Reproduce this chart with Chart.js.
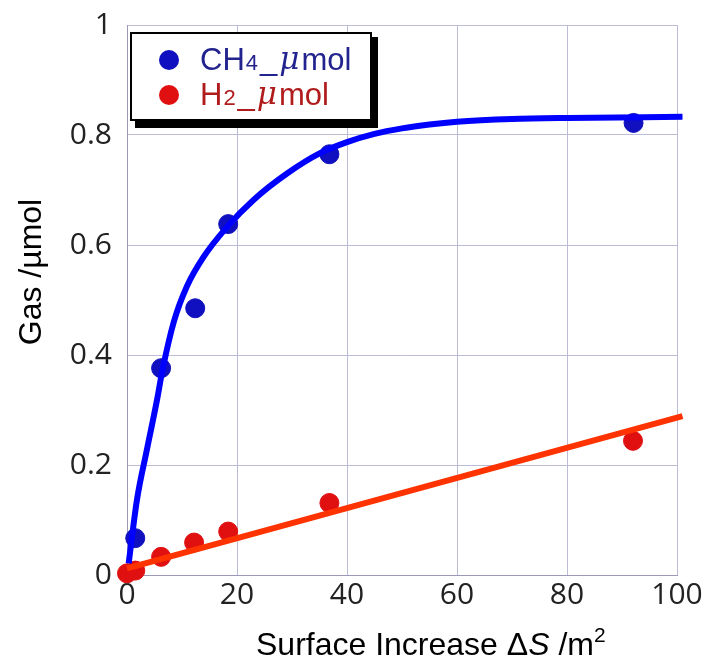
<!DOCTYPE html>
<html>
<head>
<meta charset="utf-8">
<script src="https://cdn.jsdelivr.net/npm/chart.js@4"></script>
<style>
  html, body { margin: 0; padding: 0; background: #fff; }
  #wrap { width: 708px; height: 660px; }
</style>
</head>
<body>
<div id="wrap"><canvas id="gasChart" width="708" height="660"></canvas></div>
<script>
// measured points
const ch4X = [1.5, 6.2, 12.4, 18.4, 36.8, 92.1];
const ch4Y = [0.067, 0.376, 0.485, 0.638, 0.765, 0.822];
const h2X = [0, 1.5, 6.2, 12.2, 18.4, 36.8, 92];
const h2Y = [0.003, 0.008, 0.033, 0.059, 0.079, 0.131, 0.244];

// fitted curves
const ch4FitX = [0.3, 1.8, 3.6, 5.45, 6.4, 8.5, 10.9, 13.9, 18.2, 23, 29.1, 35.1, 40, 45, 50, 55, 60, 70, 80, 101];
const ch4FitY = [0.021, 0.136, 0.227, 0.318, 0.37, 0.46, 0.525, 0.578, 0.633, 0.682, 0.73, 0.767, 0.787, 0.802, 0.812, 0.819, 0.824, 0.829, 0.831, 0.833];
const h2FitX = [0, 101];
const h2FitY = [0.012, 0.289];

const xTicks = [0, 20, 40, 60, 80, 100];
const yTicks = [0, 0.2, 0.4, 0.6, 0.8, 1];

const pts = (xs, ys) => xs.map((x, i) => ({ x: x, y: ys[i] }));

const tickFont = { family: '"Open Sans", sans-serif', size: 30 };

// legend box + axis titles drawn by hand
const decorations = {
  id: 'decorations',
  afterDraw(chart) {
    const ctx = chart.ctx;
    ctx.save();

    // legend
    ctx.fillStyle = '#000';
    ctx.fillRect(135, 37, 243, 91);
    ctx.fillStyle = '#fff';
    ctx.fillRect(130, 32, 242, 89);
    ctx.strokeStyle = '#000';
    ctx.lineWidth = 2;
    ctx.strokeRect(131, 33, 240, 87);

    const items = [
      { dot: '#1010c0', text: '#23238f', main: 'CH', sub: '4', y: 60 },
      { dot: '#e01010', text: '#b01c1c', main: 'H', sub: '2', y: 95 }
    ];
    items.forEach(it => {
      ctx.fillStyle = it.dot;
      ctx.beginPath();
      ctx.arc(169, it.y, 10, 0, Math.PI * 2);
      ctx.fill();
      ctx.fillStyle = it.text;
      ctx.textBaseline = 'middle';
      let x = 200;
      ctx.font = '31px "Liberation Sans", Arial, sans-serif';
      ctx.fillText(it.main, x, it.y + 1);
      x += ctx.measureText(it.main).width + 1;
      ctx.font = '22px "Liberation Sans", Arial, sans-serif';
      ctx.fillText(it.sub, x, it.y + 4);
      x += ctx.measureText(it.sub).width + 2;
      ctx.font = '31px "Liberation Sans", Arial, sans-serif';
      ctx.fillText('_', x, it.y + 1);
      x += ctx.measureText('_').width + 2;
      ctx.font = 'italic 31px "DejaVu Serif", serif';
      ctx.fillText('\u03bc', x, it.y + 1);
      x += ctx.measureText('\u03bc').width + 2;
      ctx.font = '31px "Liberation Sans", Arial, sans-serif';
      ctx.fillText('mol', x, it.y + 1);
    });

    // y title
    ctx.fillStyle = '#000';
    ctx.font = '32px "Liberation Sans", Arial, sans-serif';
    ctx.translate(41, 272);
    ctx.rotate(-Math.PI / 2);
    ctx.textAlign = 'center';
    ctx.textBaseline = 'alphabetic';
    ctx.fillText('Gas /\u00b5mol', 0, 0);
    ctx.setTransform(1, 0, 0, 1, 0, 0);

    // x title
    ctx.textAlign = 'left';
    let x = 256;
    const base = 655;
    const parts = [
      ['Surface Increase \u0394', '32px "Liberation Sans", Arial, sans-serif', 0],
      ['S', 'italic 32px "Liberation Sans", Arial, sans-serif', 0],
      [' /m', '32px "Liberation Sans", Arial, sans-serif', 0],
      ['2', '21px "Liberation Sans", Arial, sans-serif', -13]
    ];
    parts.forEach(p => {
      ctx.font = p[1];
      ctx.fillText(p[0], x, base + p[2]);
      x += ctx.measureText(p[0]).width;
    });
    ctx.restore();
  }
};

new Chart(document.getElementById('gasChart'), {
  type: 'scatter',
  data: {
    datasets: [
      {
        label: 'CH4 fit',
        type: 'line',
        data: pts(ch4FitX, ch4FitY),
        borderColor: '#0000ff',
        borderWidth: 6,
        pointRadius: 0,
        cubicInterpolationMode: 'monotone',
        fill: false,
        clip: false,
        order: 0
      },
      {
        label: 'H2 fit',
        type: 'line',
        data: pts(h2FitX, h2FitY),
        borderColor: '#ff3300',
        borderWidth: 6,
        pointRadius: 0,
        fill: false,
        clip: false,
        order: 0
      },
      {
        label: 'CH4_\u03bcmol',
        data: pts(ch4X, ch4Y),
        backgroundColor: '#1010c0',
        borderColor: '#1010c0',
        pointRadius: 9.5,
        clip: false,
        order: 1
      },
      {
        label: 'H2_\u03bcmol',
        data: pts(h2X, h2Y),
        backgroundColor: '#e01010',
        borderColor: '#e01010',
        pointRadius: 9.5,
        clip: false,
        order: 1
      }
    ]
  },
  options: {
    responsive: false,
    animation: false,
    layout: { padding: { top: 25, right: 31, left: 0, bottom: 0 } },
    plugins: {
      legend: { display: false },
      tooltip: { enabled: false }
    },
    scales: {
      x: {
        type: 'linear',
        min: 0,
        max: 100,
        afterBuildTicks: s => { s.ticks = xTicks.map(v => ({ value: v })); },
        afterFit: s => { s.height = 85; s.paddingLeft = 0; s.paddingRight = 0; },
        grid: { color: '#bcbcd8', lineWidth: 1, drawTicks: false },
        border: { color: '#9a9ab8', width: 1 },
        ticks: { font: tickFont, color: '#222', padding: 2, maxRotation: 0 }
      },
      y: {
        type: 'linear',
        min: 0,
        max: 1,
        afterBuildTicks: s => { s.ticks = yTicks.map(v => ({ value: v })); },
        afterFit: s => { s.width = 127; s.paddingTop = 0; s.paddingBottom = 0; },
        grid: { color: '#bcbcd8', lineWidth: 1, drawTicks: false },
        border: { color: '#9a9ab8', width: 1 },
        ticks: { font: tickFont, color: '#222', padding: 15, callback: v => String(v) }
      }
    }
  },
  plugins: [decorations]
});
</script>
</body>
</html>
